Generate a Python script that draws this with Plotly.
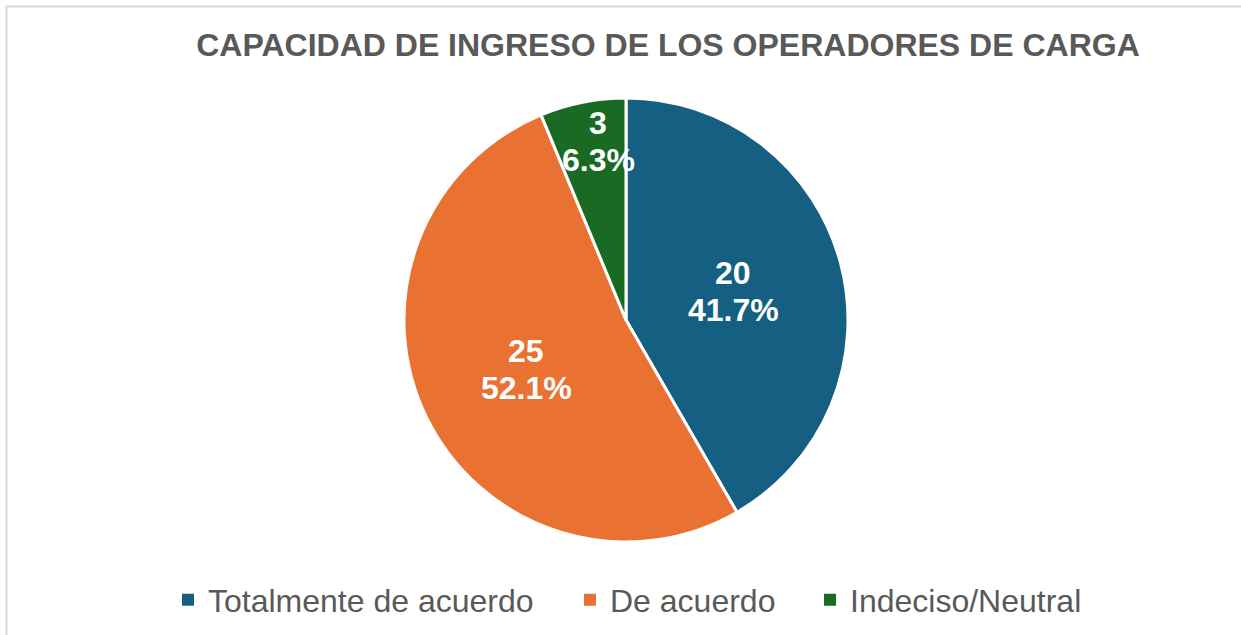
import math
from decimal import Decimal, ROUND_HALF_UP
import plotly.graph_objects as go

categories = ["Totalmente de acuerdo", "De acuerdo", "Indeciso/Neutral"]
values = [20, 25, 3]
colors = ["#156082", "#E97132", "#196B24"]
title_text = "CAPACIDAD DE INGRESO DE LOS OPERADORES DE CARGA"

W, H = 1241, 635
cx, cy, R = 626, 320, 222  # pie center/radius in px
FONT = "Liberation Sans, Arial, sans-serif"
FS = 32

fig = go.Figure(go.Pie(
    labels=categories,
    values=values,
    marker=dict(colors=colors, line=dict(color="white", width=3)),
    sort=False,
    direction="clockwise",
    rotation=0,
    textinfo="none",
    hoverinfo="label+value+percent",
    showlegend=False,
    domain=dict(x=[(cx - R) / W, (cx + R) / W], y=[(H - cy - R) / H, (H - cy + R) / H]),
))

# legend entries (square swatches), one legend per entry for placement
legend_text_x = [208, 610, 850]
legend_names = ["legend", "legend2", "legend3"]
for name, col, lname in zip(categories, colors, legend_names):
    fig.add_trace(go.Scatter(
        x=[None], y=[None], mode="markers", name=name, legend=lname,
        marker=dict(symbol="square", size=12, color=col),
        hoverinfo="skip",
    ))


def pct(v, t):
    d = Decimal(v * 100) / Decimal(t)
    return str(d.quantize(Decimal("0.1"), rounding=ROUND_HALF_UP))


# data labels (value + percent), placed from the data along each slice's mid-angle
total = sum(values)
cum = 0
annotations = []
for v in values:
    frac = v / total
    mid = (cum + frac / 2) * 2 * math.pi
    cum += frac
    small = frac < 0.15
    rr = 0.82 if small else 0.5
    px = cx + rr * R * math.sin(mid) + (8 if small else 0)
    py = cy - rr * R * math.cos(mid)
    for txt, dy in ((f"<b>{v}</b>", -18.5), (f"<b>{pct(v, total)}%</b>", 18.5)):
        annotations.append(dict(
            x=px / W, y=1 - (py + dy) / H, xref="paper", yref="paper",
            text=txt, showarrow=False,
            font=dict(family=FONT, size=FS, color="white"),
            xanchor="center", yanchor="middle", align="center",
        ))

leg_common = dict(orientation="h", yanchor="middle", xanchor="left",
                  font=dict(family=FONT, size=FS, color="#595959"),
                  bgcolor="rgba(0,0,0,0)", borderwidth=0, itemwidth=30)
layout_legends = {}
for lname, tx in zip(legend_names, legend_text_x):
    layout_legends[lname] = dict(leg_common, x=(tx - 40) / W, y=1 - 600 / H)

fig.update_layout(
    width=W, height=H,
    margin=dict(l=0, r=0, t=0, b=0),
    paper_bgcolor="white",
    plot_bgcolor="white",
    font=dict(family=FONT, color="#595959"),
    title=dict(text=f"<b>{title_text}</b>", x=668 / W, y=1 - 45 / H,
               xanchor="center", yanchor="middle",
               font=dict(family=FONT, size=FS, color="#595959")),
    showlegend=True,
    xaxis=dict(visible=False),
    yaxis=dict(visible=False),
    annotations=annotations,
    shapes=[dict(type="rect", xref="paper", yref="paper",
                 x0=6.5 / W, y0=-0.05, x1=1.05, y1=1 - 6.5 / H,
                 line=dict(color="#D9D9D9", width=2), fillcolor="rgba(0,0,0,0)")],
    **layout_legends,
)

fig.write_html("out.html", config={"displayModeBar": False},
               post_script="document.body.style.margin='0';")
